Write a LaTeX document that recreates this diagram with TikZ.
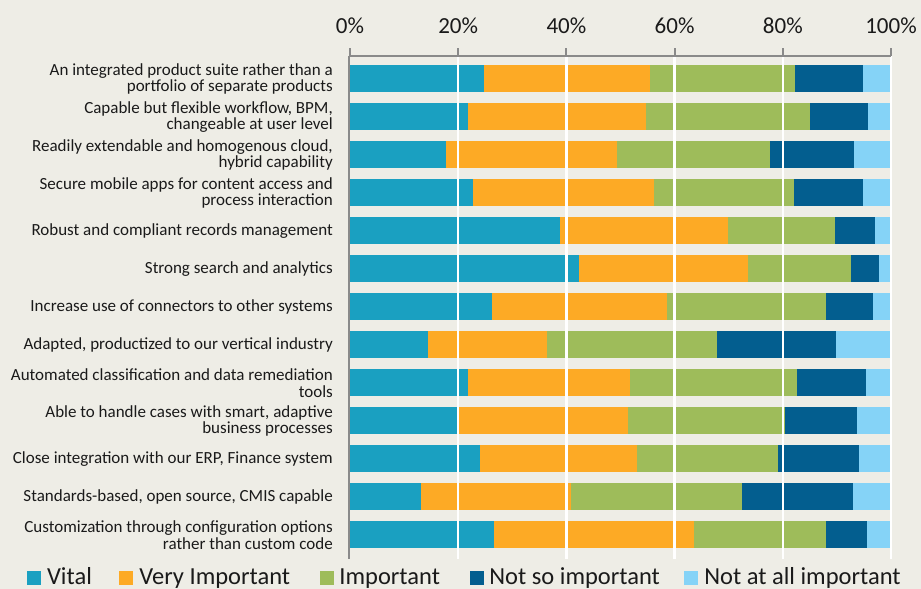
\documentclass[tikz,border=0pt]{standalone}
\usepackage{fontspec}
\setmainfont{Carlito}
\usetikzlibrary{positioning}

\definecolor{bg}{HTML}{EEEDE6}
\definecolor{txt}{HTML}{1A1A1A}
\definecolor{axisgray}{HTML}{8A8A8A}
\definecolor{vital}{HTML}{1AA0C1}
\definecolor{veryimp}{HTML}{FDAA25}
\definecolor{imp}{HTML}{9EBC5A}
\definecolor{notso}{HTML}{035E8F}
\definecolor{notatall}{HTML}{85D3F7}

\begin{document}
\begin{tikzpicture}[x=1pt, y=-1pt,
  catlabel/.style={anchor=east, align=right, inner sep=0pt, text=txt,
    font=\fontsize{17}{16.5}\selectfont},
  ticklabel/.style={anchor=base, inner sep=0pt, text=txt,
    font=\fontsize{23}{23}\selectfont},
  legbox/.style={minimum size=14pt, inner sep=0pt},
  legtext/.style={anchor=west, inner sep=0pt, text=txt,
    text height=17pt, text depth=4pt,
    font=\fontsize{24.5}{24.5}\selectfont},
  axisline/.style={draw=axisgray, line width=2pt},
  gridline/.style={draw=white, line width=2.5pt}]

  \fill[bg] (0,0) rectangle (921,589);

  % stacked bars, cumulative percentages
  \begin{scope}[xshift=350pt, x=5.41pt]
  \foreach \i/\a/\b/\c/\d in {0/24.7/55.4/82.3/94.8, 1/21.9/54.8/85.0/95.8,
      2/17.7/49.4/77.6/93.2, 3/22.7/56.2/82.1/94.8, 4/38.9/69.9/89.7/97.1,
      5/42.4/73.6/92.6/97.7, 6/26.2/58.6/88.0/96.7, 7/14.4/36.4/67.9/89.8,
      8/21.9/51.8/82.6/95.4, 9/19.7/51.4/80.4/93.7, 10/24.0/53.0/79.2/94.1,
      11/13.1/40.9/72.5/93.0, 12/26.7/63.6/88.0/95.6} {
    \pgfmathsetmacro\top{65+38*\i}
    \pgfmathsetmacro\bot{92+38*\i}
    \fill[vital] (0,\top) rectangle (\a,\bot);
    \fill[veryimp] (\a,\top) rectangle (\b,\bot);
    \fill[imp] (\b,\top) rectangle (\c,\bot);
    \fill[notso] (\c,\top) rectangle (\d,\bot);
    \fill[notatall] (\d,\top) rectangle (100,\bot);
  }

  \foreach \p in {20,40,60,80,100}
    \draw[gridline] (\p,56) -- (\p,559);
  \draw[axisline] (0,56) -- (100,56);
  \draw[axisline] ([xshift=-1pt]0,56) -- ([xshift=-1pt]0,559);
  \foreach \p in {0,20,40,60,80,100} {
    \draw[axisline] (\p,48) -- (\p,56);
    \node[ticklabel] (tick\p) at (\p,33) {\p\%};
  }
  \end{scope}

  % category labels
  \foreach \i/\txt in {0/{An integrated product suite rather than a\\portfolio of separate products},
      1/{Capable but flexible workflow, BPM,\\changeable at user level},
      2/{Readily extendable and homogenous cloud,\\hybrid capability},
      3/{Secure mobile apps for content access and\\process interaction},
      4/{Robust and compliant records management},
      5/{Strong search and analytics},
      6/{Increase use of connectors to other systems},
      7/{Adapted, productized to our vertical industry},
      8/{Automated classification and data remediation\\tools},
      9/{Able to handle cases with smart, adaptive\\business processes},
      10/{Close integration with our ERP, Finance system},
      11/{Standards-based, open source, CMIS capable},
      12/{Customization through configuration options\\rather than custom code}}
    \node[catlabel] (cat\i) at (333,{79+38*\i}) {\txt};

  % legend
  \node[legbox, fill=vital] (lg1) at (33.7,578) {};
  \node[legtext, right=6pt of lg1] (lgt1) {Vital};
  \node[legbox, fill=veryimp] (lg2) at (126,578) {};
  \node[legtext, right=6pt of lg2] (lgt2) {Very Important};
  \node[legbox, fill=imp] (lg3) at (327,578) {};
  \node[legtext, right=5pt of lg3] (lgt3) {Important};
  \node[legbox, fill=notso] (lg4) at (477,578) {};
  \node[legtext, right=5pt of lg4] (lgt4) {Not so important};
  \node[legbox, fill=notatall] (lg5) at (691,578) {};
  \node[legtext, right=6pt of lg5] (lgt5) {Not at all important};
\end{tikzpicture}
\end{document}
